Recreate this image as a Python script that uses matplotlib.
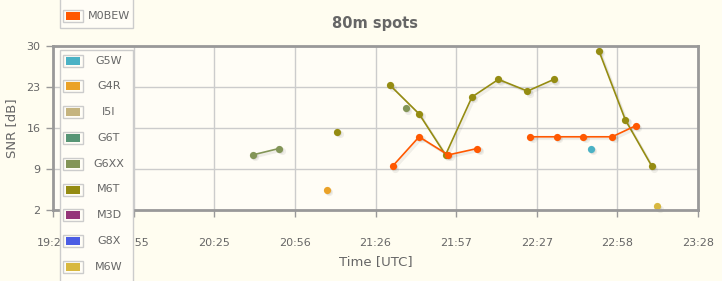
import matplotlib
matplotlib.use("Agg")
import matplotlib.pyplot as plt
import matplotlib.transforms as mtransforms
from matplotlib.patches import Rectangle
import numpy as np

# --- data ---
x_ticklabels = ["19:24", "19:55", "20:25", "20:56", "21:26", "21:57", "22:27", "22:58", "23:28"]

# None in a time list breaks the line
m0bew_t = ["21:33", "21:43", "21:54", "22:05", None, "22:25", "22:35", "22:45", "22:56", "23:05"]
m0bew_snr = [9.5, 14.5, 11.4, 12.5, None, 14.5, 14.5, 14.5, 14.5, 16.4]

g5w_t = ["22:48"]
g5w_snr = [12.5]

g4r_t = ["21:08"]
g4r_snr = [5.5]

g6xx_t = ["20:40", "20:50", None, "21:38"]
g6xx_snr = [11.4, 12.5, None, 19.4]

m6t_t = ["21:12", None, "21:32", "21:43", "21:53", "22:03", "22:13", "22:24", "22:34",
         None, "22:51", "23:01", "23:11"]
m6t_snr = [15.4, None, 23.3, 18.4, 11.4, 21.3, 24.3, 22.3, 24.3, None, 29.2, 17.4, 9.5]

m6w_t = ["23:13"]
m6w_snr = [2.6]

legend_top = ["M0BEW"]
legend_main = ["G5W", "G4R", "I5I", "G6T", "G6XX", "M6T", "M3D", "G8X", "M6W"]
colors = {"G5W": "#4bb2c5", "G4R": "#EAA228", "I5I": "#c5b47f", "G6T": "#579575",
          "G6XX": "#839557", "M6T": "#958c12", "M3D": "#953579", "G8X": "#4b5de4",
          "M6W": "#d8b83f", "M0BEW": "#ff5800"}

series = [("G6XX", g6xx_t, g6xx_snr), ("M6T", m6t_t, m6t_snr), ("G4R", g4r_t, g4r_snr),
          ("G5W", g5w_t, g5w_snr), ("M6W", m6w_t, m6w_snr), ("M0BEW", m0bew_t, m0bew_snr)]


def to_min(s):
    if s is None:
        return np.nan
    h, m = s.split(":")
    return int(h) * 60 + int(m)


W, H = 722, 281
fig = plt.figure(figsize=(W / 100, H / 100), dpi=100, facecolor="#fffdf0")
ax = fig.add_axes([53 / W, (H - 210) / H, 645 / W, 164 / H])
ax.set_facecolor("#fffdf6")

x0, step = 19 * 60 + 24.5, 30.5
xticks = [x0 + step * i for i in range(len(x_ticklabels))]
ax.set_xlim(xticks[0], xticks[-1])
ax.set_ylim(2, 30)
ax.set_xticks(xticks)
ax.set_xticklabels(x_ticklabels)
ax.set_yticks([2, 9, 16, 23, 30])

ax.grid(True, color="#cccccc", lw=1)
ax.set_axisbelow(True)
for sp in ax.spines.values():
    sp.set_color("#999999")
    sp.set_linewidth(2)
ax.tick_params(colors="#999999", labelcolor="#666666", labelsize=8, length=5, width=1)
ax.tick_params(axis="x", pad=15)
ax.tick_params(axis="y", pad=4)

for name, ts, vals in series:
    xs = [to_min(t) for t in ts]
    ys = [np.nan if v is None else v for v in vals]
    for k in (1, 2):
        off = mtransforms.ScaledTranslation(k * 0.9 / 72, -k * 0.9 / 72, fig.dpi_scale_trans)
        ax.plot(xs, ys, color=(0, 0, 0, 0.06), lw=1.2, marker="o", ms=5.2, mew=0,
                transform=ax.transData + off, clip_on=False)
    ax.plot(xs, ys, color=colors[name], lw=1.2, marker="o", ms=5.2, mew=0, clip_on=False)

ax.set_title("80m spots", color="#666666", fontsize=10.5, fontweight="bold", pad=13)
ax.set_xlabel("Time [UTC]", color="#666666", fontsize=9.5, labelpad=5)
ax.set_ylabel("SNR [dB]", color="#666666", fontsize=9.5, labelpad=6)

# legend boxes, drawn in figure pixel space
ov = fig.add_axes([0, 0, 1, 1], zorder=5)
ov.set_xlim(0, W)
ov.set_ylim(H, 0)
ov.axis("off")
ov.patch.set_alpha(0)


def legend_box(names, top, bottom, first_y):
    ov.add_patch(Rectangle((60, top), 73, bottom - top, facecolor="#fffdf6",
                           edgecolor="#cccccc", lw=1))
    for i, n in enumerate(names):
        yc = first_y + i * 25.8
        ov.add_patch(Rectangle((63, yc - 6), 20, 12, facecolor="none", edgecolor="#cccccc", lw=1))
        ov.add_patch(Rectangle((66, yc - 4), 14, 8, facecolor=colors[n], edgecolor="none"))
        ov.text(109, yc, n, ha="center", va="center", color="#666666", fontsize=8)


legend_box(legend_top, -5, 28, 15.7)
legend_box(legend_main, 50, 290, 60.5)

fig.savefig("out.png", dpi=100, facecolor=fig.get_facecolor())
